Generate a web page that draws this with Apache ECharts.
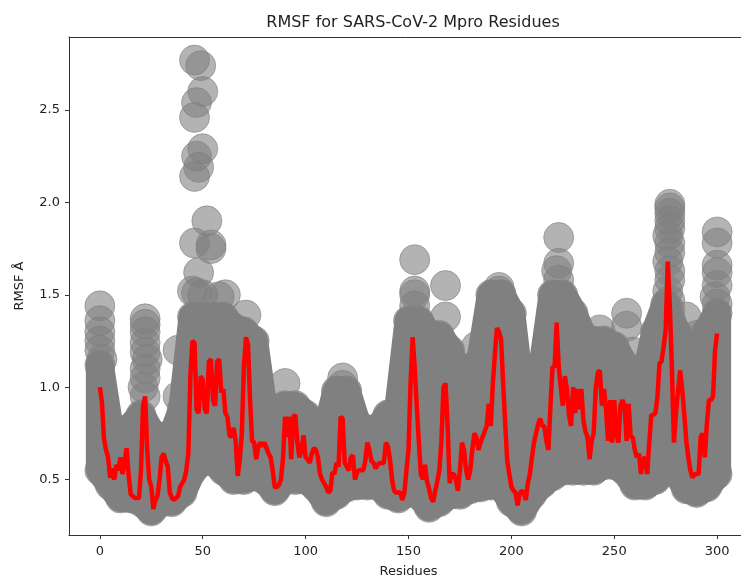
<!DOCTYPE html>
<html><head><meta charset="utf-8">
<script src="https://cdn.jsdelivr.net/npm/echarts@6/dist/echarts.min.js"></script>
<style>html,body{margin:0;padding:0;background:#fff}#c{width:741px;height:578px}</style>
</head><body><div id="c"></div>
<script>
// Mean RMSF per residue (red line), residues 0..300
const meanRMSF = [
1.00,0.92,0.72,0.66,0.62,0.51,0.56,0.50,0.58,0.55,
0.62,0.53,0.59,0.67,0.52,0.42,0.41,0.40,0.40,0.40,
0.55,0.90,0.95,0.66,0.50,0.46,0.34,0.39,0.41,0.50,
0.62,0.64,0.60,0.57,0.43,0.40,0.39,0.40,0.41,0.46,
0.48,0.50,0.55,0.64,1.06,1.25,1.24,0.88,0.86,1.06,
1.04,0.88,0.86,1.14,1.15,0.93,0.90,1.14,1.15,0.97,
0.99,0.86,0.84,0.74,0.73,0.78,0.71,0.52,0.61,0.75,
1.11,1.27,1.23,0.93,0.71,0.70,0.61,0.68,0.70,0.68,
0.70,0.67,0.64,0.62,0.55,0.46,0.46,0.47,0.50,0.61,
0.84,0.73,0.84,0.61,0.84,0.85,0.70,0.62,0.66,0.74,
0.62,0.61,0.59,0.64,0.67,0.66,0.62,0.53,0.50,0.48,
0.46,0.43,0.44,0.54,0.53,0.59,0.57,0.84,0.83,0.59,
0.57,0.55,0.62,0.63,0.50,0.54,0.55,0.55,0.55,0.60,
0.70,0.66,0.60,0.59,0.56,0.58,0.59,0.59,0.59,0.70,
0.68,0.61,0.50,0.44,0.43,0.43,0.43,0.39,0.43,0.55,
0.66,1.02,1.27,1.11,0.90,0.71,0.53,0.50,0.58,0.49,
0.45,0.40,0.38,0.44,0.49,0.55,0.71,1.00,1.02,0.79,
0.48,0.53,0.53,0.50,0.44,0.55,0.70,0.66,0.55,0.50,
0.55,0.66,0.75,0.73,0.66,0.70,0.73,0.76,0.79,0.91,
0.79,1.02,1.18,1.32,1.30,1.26,1.02,0.80,0.60,0.53,
0.46,0.44,0.43,0.36,0.42,0.44,0.43,0.39,0.48,0.53,
0.62,0.70,0.75,0.80,0.83,0.79,0.79,0.71,0.66,0.90,
1.11,1.11,1.35,1.11,1.00,0.90,1.06,0.99,0.85,0.79,
1.00,0.86,0.99,0.88,0.99,0.82,0.76,0.73,0.61,0.71,
0.75,0.99,1.08,1.09,0.90,0.99,0.88,0.71,0.93,0.70,
0.93,0.75,0.70,0.90,0.93,0.90,0.71,0.91,0.73,0.73,
0.66,0.62,0.64,0.53,0.61,0.62,0.53,0.70,0.85,0.85,
0.86,0.95,1.13,1.14,1.22,1.31,1.68,1.44,1.11,0.70,
0.86,0.98,1.09,0.99,0.86,0.71,0.62,0.55,0.51,0.53,
0.53,0.53,0.73,0.75,0.62,0.80,0.93,0.93,0.95,1.20,
1.29
];

// Dense cloud of per-frame RMSF points: sampled residues with lowest / highest dense values
const envResidues = [0,5,10,15,20,25,30,35,40,45,50,55,60,65,70,75,80,85,90,95,100,105,110,115,120,125,130,135,140,145,150,155,160,165,170,175,180,185,190,195,200,205,210,215,220,225,230,235,240,245,250,255,260,265,270,275,280,285,290,295,300];
const envLow = [0.55,0.47,0.40,0.40,0.38,0.33,0.38,0.38,0.43,0.55,0.60,0.60,0.55,0.50,0.50,0.52,0.50,0.44,0.50,0.50,0.50,0.46,0.38,0.42,0.46,0.47,0.47,0.47,0.42,0.40,0.43,0.42,0.35,0.38,0.42,0.42,0.45,0.46,0.47,0.47,0.38,0.33,0.42,0.48,0.52,0.55,0.55,0.55,0.55,0.58,0.58,0.55,0.47,0.47,0.50,0.55,0.55,0.45,0.43,0.46,0.53];
const envHigh = [1.12,0.76,0.76,0.78,0.85,0.75,0.73,0.73,0.88,1.38,1.38,1.38,1.38,1.32,1.30,1.25,0.85,0.88,0.90,0.90,0.85,0.78,0.76,0.98,0.98,0.80,0.77,0.77,0.85,0.88,1.36,1.36,1.28,1.28,1.20,1.00,1.10,1.15,1.50,1.50,1.40,0.92,1.05,1.10,1.50,1.50,1.40,1.27,1.25,1.25,1.22,1.12,1.05,1.05,1.30,1.45,1.30,1.22,1.20,1.30,1.40];

// Individual points outside the dense cloud
const outX = [0,0,0,0,0,1,
  22,22,22,22,22,23,22,22,21,22,
  38,38,45,46,49,50,47,46,50,47,48,46,52,46,54,54,48,47,50,58,61,71,
  90,118,118,153,153,153,153,168,168,183,194,194,195,211,223,223,222,223,243,256,256,259,
  277,277,277,277,277,276,277,277,276,277,277,276,277,277,285,290,
  300,300,300,300,300,299,300];
const outY = [1.44,1.36,1.30,1.25,1.20,1.15,
  1.37,1.34,1.30,1.24,1.19,1.15,1.10,1.05,1.00,0.95,
  1.20,0.95,1.52,2.77,2.74,2.60,2.54,2.46,2.29,2.25,2.19,2.14,1.90,1.78,1.77,1.75,1.62,1.51,1.50,1.49,1.50,1.39,
  1.02,1.05,1.01,1.69,1.52,1.50,1.44,1.55,1.38,1.22,1.54,1.52,1.50,1.10,1.81,1.67,1.63,1.58,1.31,1.40,1.33,1.19,
  1.99,1.97,1.94,1.90,1.86,1.82,1.78,1.73,1.68,1.63,1.58,1.52,1.47,1.42,1.38,1.28,
  1.84,1.78,1.66,1.62,1.55,1.49,1.45];

const xTicks = [0,50,100,150,200,250,300];
const yTicks = [0.5,1.0,1.5,2.0,2.5];

const FONT = '"DejaVu Sans", sans-serif';
const GRAY = '#808080';
const AX = '#333';

const lineData = meanRMSF.map((v,i)=>[i,v]);
const edgePts = envResidues.map((x,i)=>[x,envLow[i]]).concat(envResidues.map((x,i)=>[x,envHigh[i]]));
const outPts = outX.map((x,i)=>[x,outY[i]]);

const X_MIN = -15, X_MAX = 315;

const chart = echarts.init(document.getElementById('c'), null, {renderer:'canvas'});
chart.setOption({
  animation:false,
  backgroundColor:'#fff',
  title:{text:'RMSF for SARS-CoV-2 Mpro Residues', left:408, textAlign:'center', top:10,
    textStyle:{fontFamily:FONT, fontSize:16, fontWeight:'normal', color:'#222'}},
  grid:{left:69, top:37, width:679, height:498, show:false, outerBoundsMode:'none', containLabel:false},
  xAxis:[{type:'value', min:X_MIN, max:X_MAX, position:'bottom',
    name:'Residues', nameLocation:'middle', nameGap:30,
    nameTextStyle:{fontFamily:FONT, fontSize:13, color:'#222'},
    axisLine:{show:true, onZero:false, lineStyle:{color:AX, width:1}}, splitLine:{show:false},
    axisTick:{show:true, length:4, lineStyle:{color:AX}, customValues:xTicks},
    axisLabel:{fontFamily:FONT, fontSize:13, color:'#222', margin:10, customValues:xTicks}},
   {type:'value', min:X_MIN, max:X_MAX, position:'top',
    axisLine:{show:true, onZero:false, lineStyle:{color:AX, width:1}}, splitLine:{show:false},
    axisTick:{show:false}, axisLabel:{show:false}}],
  yAxis:{type:'value', min:0.2, max:2.895,
    name:'RMSF Å', nameLocation:'middle', nameGap:43, nameRotate:90,
    nameTextStyle:{fontFamily:FONT, fontSize:13, color:'#222'},
    axisLine:{show:true, onZero:false, lineStyle:{color:AX, width:1}}, splitLine:{show:false},
    axisTick:{show:true, length:4, lineStyle:{color:AX}, customValues:yTicks},
    axisLabel:{fontFamily:FONT, fontSize:13, color:'#222', margin:9, customValues:yTicks,
      formatter:v=>v.toFixed(1)}},
  series:[
    {type:'custom', data:[[0,0]], z:1, silent:true, clip:true,
      renderItem:(params, api)=>{
        const up = envResidues.map((x,i)=>api.coord([x,envHigh[i]]));
        const dn = envResidues.map((x,i)=>api.coord([x,envLow[i]])).reverse();
        return {type:'polygon', shape:{points:up.concat(dn)},
          style:{fill:GRAY, stroke:GRAY, lineWidth:28, lineJoin:'round'}};
      }},
    {type:'scatter', data:edgePts, symbolSize:30, itemStyle:{color:GRAY, opacity:0.6, borderColor:GRAY, borderWidth:1}, z:2},
    {type:'scatter', data:outPts, symbolSize:30, itemStyle:{color:GRAY, opacity:0.6, borderColor:GRAY, borderWidth:1}, z:2},
    {type:'line', data:lineData, symbol:'none', lineStyle:{color:'#ff0000', width:4.5}, z:3}
  ]
});
</script></body></html>
